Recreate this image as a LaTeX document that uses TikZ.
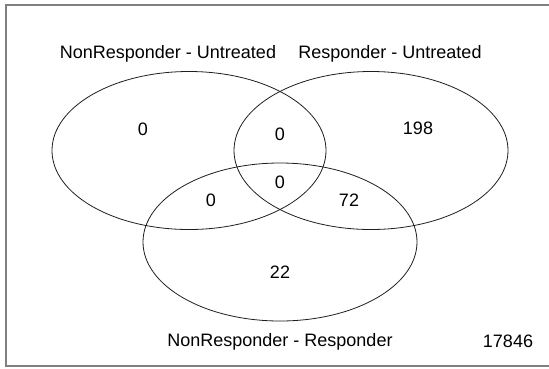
\documentclass[tikz,border=0pt]{standalone}
\usepackage{fontspec}
\setmainfont{Liberation Sans}
\usepackage{xcolor}
\definecolor{Col1}{RGB}{30,30,30}
\definecolor{Col2}{RGB}{128,128,128}
\usetikzlibrary{shapes.geometric}
\tikzstyle{Set}=[ellipse,draw=Col1,line width=0.8pt,inner sep=0pt,
minimum width=274pt,minimum height=158pt]
\tikzstyle{Count}=[font=\fontsize{18}{20}\selectfont,inner sep=1pt]
\tikzstyle{Name}=[Count,anchor=base]

\begin{document}
\begin{tikzpicture}[x=1pt,y=-1pt]
        \useasboundingbox (0,0) rectangle (549,368);
        \draw[draw=Col2,line width=1.5pt] (6,5) rectangle (552,366);
        \node[Set](A)at(189,150.5){};
        \node[Set](B)at(371,150.5){};
        \node[Set](C)at(280,242){};
        \node[Name](a)at(168,58){NonResponder - Untreated};
        \node[Name](b)at(390,58){Responder - Untreated};
        \node[Name](c)at(280,346){NonResponder - Responder};
        \node[Name](t)at(508,347){17846};
        \node[Count](n1)at(143,129){0};
        \node[Count](n2)at(418,128){198};
        \node[Count](n3)at(280,272){22};
        \node[Count](n12)at(280,134){0};
        \node[Count](n13)at(211,200){0};
        \node[Count](n23)at(349,200){72};
        \node[Count](n123)at(280,182){0};
    \end{tikzpicture}
\end{document}
